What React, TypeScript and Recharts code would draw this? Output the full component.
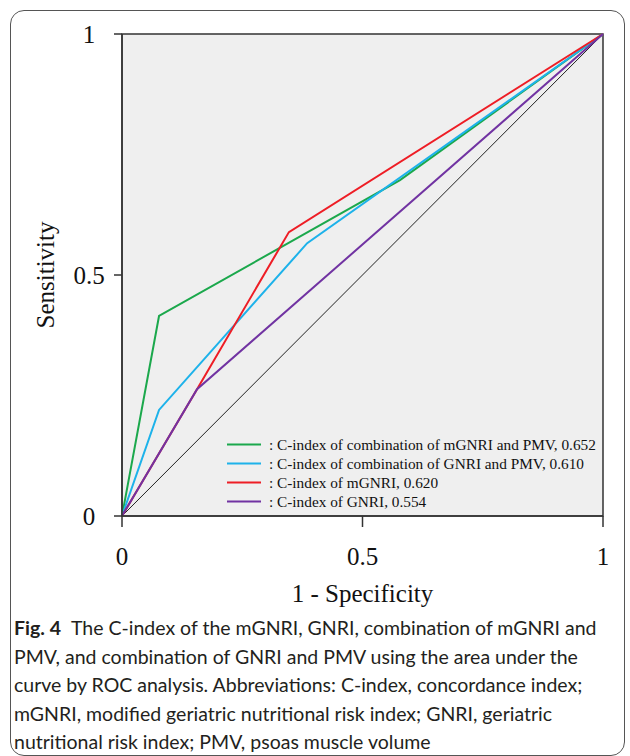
import React from 'react';
import { LineChart, Line, XAxis, YAxis, ReferenceArea, Legend } from 'recharts';

// axis ticks
const xTicks = [0, 0.5, 1];
const yTicks = [0, 0.5, 1];
const tickLabels: Record<number, string> = { 0: '0', 0.5: '0.5', 1: '1' };

// ROC points (1 - specificity, sensitivity)
const comboMgnriFpr = [0, 0.077, 0.578, 1];
const comboMgnriTpr = [0, 0.415, 0.697, 1];
const comboGnriFpr = [0, 0.077, 0.385, 1];
const comboGnriTpr = [0, 0.22, 0.566, 1];
const mgnriFpr = [0, 0.156, 0.347, 1];
const mgnriTpr = [0, 0.263, 0.589, 1];
const gnriFpr = [0, 0.156, 1];
const gnriTpr = [0, 0.263, 1];
const chanceFpr = [0, 1];
const chanceTpr = [0, 1];

const seriesNames = [
  ': C-index of combination of mGNRI and PMV, 0.652',
  ': C-index of combination of GNRI and PMV, 0.610',
  ': C-index of mGNRI, 0.620',
  ': C-index of GNRI, 0.554',
];
const seriesColors = ['#1ba84c', '#1db2ea', '#ee1d25', '#7133a2'];

const toPoints = (xs: number[], ys: number[]) => xs.map((x, i) => ({ x, y: ys[i] }));

const serif = '"Liberation Serif", "Times New Roman", serif';

const XTick = (props: any) => {
  const { x, y, payload } = props;
  return (
    <text x={x} y={y} dy="0.35em" textAnchor="middle" fontSize={25} fill="#111" fontFamily={serif}>
      {tickLabels[payload.value]}
    </text>
  );
};

const YTick = (props: any) => {
  const { x, y, payload } = props;
  return (
    <text x={x} y={y} dy="0.35em" textAnchor="middle" fontSize={25} fill="#111" fontFamily={serif}>
      {tickLabels[payload.value]}
    </text>
  );
};

const renderYLabel = (props: any) => {
  const vb = props.viewBox || { x: 20, y: 34, width: 102, height: 482 };
  const cx = vb.x + 25;
  const cy = vb.y + vb.height / 2;
  return (
    <text
      x={cx}
      y={cy}
      transform={`rotate(-90 ${cx} ${cy})`}
      textAnchor="middle"
      dominantBaseline="central"
      fontSize={25}
      fill="#111"
      fontFamily={serif}
    >
      Sensitivity
    </text>
  );
};

// legend keeps the figure's own order
const renderLegend = () => (
  <div style={{ fontFamily: serif, fontSize: 15.3, color: '#111' }}>
    {seriesNames.map((name, i) => (
      <div key={name} style={{ display: 'flex', alignItems: 'center', height: 19, whiteSpace: 'nowrap' }}>
        <svg width={43} height={19} style={{ flex: 'none' }}>
          <line x1={1} y1={9.5} x2={35} y2={9.5} stroke={seriesColors[i]} strokeWidth={2} />
        </svg>
        <span>{name}</span>
      </div>
    ))}
  </div>
);

const captionLines = [
  'The C-index of the mGNRI, GNRI, combination of mGNRI and',
  'PMV, and combination of GNRI and PMV using the area under the',
  'curve by ROC analysis. Abbreviations: C-index, concordance index;',
  'mGNRI, modified geriatric nutritional risk index; GNRI, geriatric',
  'nutritional risk index; PMV, psoas muscle volume',
];

export default function App() {
  return (
    <div style={{ position: 'absolute', left: 0, top: 0, width: 630, height: 756, background: '#fff', overflow: 'hidden' }}>
      <div
        style={{
          position: 'absolute',
          left: 10,
          top: 10,
          width: 615,
          height: 746,
          border: '1.3px solid #555',
          borderRadius: 14,
          boxSizing: 'border-box',
        }}
      />
      <div style={{ position: 'absolute', left: 0, top: 0 }}>
        <LineChart width={630} height={620} margin={{ top: 34, right: 27, bottom: 18, left: 20 }}>
          <XAxis
            dataKey="x"
            type="number"
            domain={[0, 1]}
            ticks={xTicks}
            tickSize={11}
            tickMargin={29}
            tick={<XTick />}
            height={86}
            axisLine={{ stroke: '#333', strokeWidth: 1.5 }}
            tickLine={{ stroke: '#333', strokeWidth: 1.5 }}
            label={{ value: '1 - Specificity', position: 'insideBottom', offset: 0, fontSize: 25, fill: '#111', fontFamily: serif }}
          />
          <YAxis
            dataKey="y"
            type="number"
            domain={[0, 1]}
            ticks={yTicks}
            tickSize={8}
            tickMargin={25}
            tick={<YTick />}
            width={102}
            axisLine={{ stroke: '#333', strokeWidth: 1.5 }}
            tickLine={{ stroke: '#333', strokeWidth: 1.5 }}
            label={{ content: renderYLabel }}
          />
          <ReferenceArea x1={0} x2={1} y1={0} y2={1} fill="#efefef" fillOpacity={1} stroke="#333" strokeWidth={1.5} />
          <Legend
            layout="horizontal"
            verticalAlign="middle"
            align="center"
            content={renderLegend}
            wrapperStyle={{ left: 226, top: 435, width: 385, height: 80 }}
          />
          <Line
            data={toPoints(chanceFpr, chanceTpr)}
            dataKey="y"
            stroke="#222"
            strokeWidth={1}
            dot={false}
            legendType="none"
            isAnimationActive={false}
          />
          <Line
            data={toPoints(comboMgnriFpr, comboMgnriTpr)}
            dataKey="y"
            name={seriesNames[0]}
            stroke={seriesColors[0]}
            strokeWidth={2}
            dot={false}
            isAnimationActive={false}
          />
          <Line
            data={toPoints(comboGnriFpr, comboGnriTpr)}
            dataKey="y"
            name={seriesNames[1]}
            stroke={seriesColors[1]}
            strokeWidth={2}
            dot={false}
            isAnimationActive={false}
          />
          <Line
            data={toPoints(mgnriFpr, mgnriTpr)}
            dataKey="y"
            name={seriesNames[2]}
            stroke={seriesColors[2]}
            strokeWidth={2}
            dot={false}
            isAnimationActive={false}
          />
          <Line
            data={toPoints(gnriFpr, gnriTpr)}
            dataKey="y"
            name={seriesNames[3]}
            stroke={seriesColors[3]}
            strokeWidth={2}
            dot={false}
            isAnimationActive={false}
          />
        </LineChart>
      </div>
      <div
        style={{
          position: 'absolute',
          left: 14,
          top: 614,
          fontFamily: 'Lato, "Open Sans", sans-serif',
          fontSize: 19.5,
          lineHeight: '28.5px',
          color: '#231f20',
          whiteSpace: 'nowrap',
        }}
      >
        {captionLines.map((line, i) => (
          <div key={i}>
            {i === 0 && <b style={{ marginRight: 10 }}>Fig. 4</b>}
            {line}
          </div>
        ))}
      </div>
    </div>
  );
}
